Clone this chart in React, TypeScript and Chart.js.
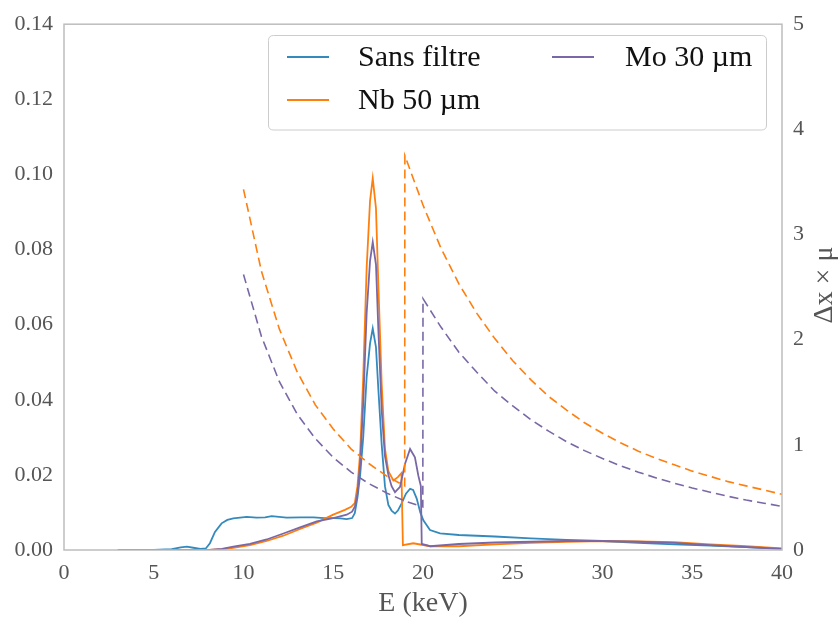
import React, { useEffect, useRef } from "react";
import { Chart, registerables } from "chart.js";

Chart.register(...registerables);

// ---------- data ----------
const seriesNames = ["Sans filtre", "Nb 50 µm", "Mo 30 µm"];

const blueE = [3, 5, 6, 6.5, 6.85, 7.2, 7.6, 7.9, 8.13, 8.41, 8.78, 9.1, 9.43, 10.18, 10.73, 11.2, 11.57, 12.4, 13.2, 13.9, 14.5, 15.0, 15.4, 15.75, 16.05, 16.2, 16.35, 16.5, 16.67, 16.86, 17.05, 17.2, 17.38, 17.51, 17.7, 17.88, 18.07, 18.25, 18.44, 18.6, 18.81, 19.05, 19.28, 19.45, 19.65, 19.85, 20.02, 20.39, 20.95, 22, 24, 26, 28, 30, 32, 34, 36, 38, 40];
const blueI = [0, 0, 0.0002, 0.0007, 0.0009, 0.0006, 0.0003, 0.0004, 0.0018, 0.0048, 0.0071, 0.008, 0.0084, 0.0088, 0.0086, 0.0087, 0.009, 0.0086, 0.0087, 0.0087, 0.0085, 0.0085, 0.0084, 0.0082, 0.0085, 0.0098, 0.014, 0.02, 0.03, 0.046, 0.055, 0.059, 0.054, 0.043, 0.028, 0.017, 0.012, 0.0105, 0.0097, 0.0105, 0.0124, 0.015, 0.0163, 0.016, 0.0137, 0.01, 0.0079, 0.0053, 0.0044, 0.004, 0.0036, 0.0031, 0.0027, 0.0024, 0.0019, 0.0015, 0.0012, 0.0008, 0.0003];

const orangeE = [3, 8.1, 8.8, 9.43, 10.36, 11.29, 12.22, 13.15, 14.08, 15.0, 15.65, 16.0, 16.2, 16.35, 16.5, 16.67, 16.86, 17.05, 17.2, 17.38, 17.51, 17.7, 17.88, 18.07, 18.35, 18.6, 18.8, 18.88, 19.46, 20.4, 22, 24, 26, 28, 30, 32, 34, 36, 38, 40];
const orangeI = [0, 0, 0.0002, 0.0006, 0.0013, 0.0024, 0.0038, 0.0056, 0.0073, 0.0094, 0.0107, 0.0115, 0.0125, 0.017, 0.026, 0.046, 0.075, 0.093, 0.099, 0.091, 0.071, 0.044, 0.027, 0.021, 0.0185, 0.0194, 0.0205, 0.0013, 0.0018, 0.001, 0.001, 0.0015, 0.0019, 0.0022, 0.0024, 0.0023, 0.0021, 0.0015, 0.001, 0.0004];

const purpleE = [3, 8.1, 8.8, 9.43, 10.36, 11.29, 12.22, 13.15, 14.08, 15.0, 15.75, 16.05, 16.2, 16.35, 16.5, 16.67, 16.86, 17.05, 17.2, 17.38, 17.51, 17.7, 17.88, 18.07, 18.25, 18.44, 18.72, 19.0, 19.28, 19.55, 19.74, 19.88, 19.93, 20.4, 22, 24, 26, 28, 30, 32, 34, 36, 38, 40];
const purpleI = [0, 0, 0.0003, 0.0009, 0.0016, 0.0028, 0.0044, 0.006, 0.0076, 0.0085, 0.0094, 0.0102, 0.0115, 0.015, 0.023, 0.039, 0.063, 0.077, 0.082, 0.076, 0.059, 0.037, 0.025, 0.02, 0.017, 0.0154, 0.0168, 0.023, 0.0269, 0.0247, 0.0198, 0.017, 0.0016, 0.001, 0.0016, 0.002, 0.0022, 0.0024, 0.0024, 0.0022, 0.0019, 0.0013, 0.0008, 0.0003];

// attenuation Δx × μ (right axis)
const nbE = [10, 11, 12, 13, 14, 15, 16, 17, 18, 18.98, 18.99, 20, 21, 22, 23, 24, 25, 26, 27, 28, 29, 30, 31, 32, 33, 34, 35, 36, 37, 38, 39, 40];
const nbMu = [3.43, 2.65, 2.1, 1.69, 1.38, 1.15, 0.96, 0.82, 0.7, 0.61, 3.75, 3.28, 2.87, 2.53, 2.25, 2.01, 1.8, 1.62, 1.46, 1.33, 1.21, 1.11, 1.02, 0.94, 0.87, 0.81, 0.75, 0.7, 0.65, 0.61, 0.57, 0.53];

const moE = [10, 11, 12, 13, 14, 15, 16, 17, 18, 19, 19.99, 20, 21, 22, 23, 24, 25, 26, 27, 28, 29, 30, 31, 32, 33, 34, 35, 36, 37, 38, 39, 40];
const moMu = [2.62, 2.03, 1.6, 1.29, 1.06, 0.88, 0.74, 0.63, 0.54, 0.465, 0.41, 2.39, 2.12, 1.88, 1.69, 1.51, 1.37, 1.24, 1.13, 1.03, 0.945, 0.87, 0.8, 0.74, 0.685, 0.635, 0.59, 0.55, 0.51, 0.475, 0.445, 0.415];

const xTicksMax = 40;
const yLeftMax = 0.14;
const yRightMax = 5;

const BLUE = "#348ABD";
const ORANGE = "#FF7F0E";
const PURPLE = "#7A68A6";
const colors = [BLUE, ORANGE, PURPLE];

const FONT = "'Liberation Serif', 'DejaVu Serif', serif";
const GRAY = "#555555";

const pts = (xs: number[], ys: number[]) => xs.map((x, i) => ({ x, y: ys[i] }));

const framePlugin = {
  id: "frame",
  afterDatasetsDraw(chart: any) {
    const { ctx, chartArea: a } = chart;
    ctx.save();
    ctx.strokeStyle = "#bdbdbd";
    ctx.lineWidth = 1.5;
    ctx.strokeRect(a.left, a.top, a.right - a.left, a.bottom - a.top);
    ctx.restore();
  },
};

const legendPlugin = {
  id: "customLegend",
  afterDraw(chart: any) {
    const ctx = chart.ctx;
    ctx.save();
    // box
    const bx = 268.5, by = 35.5, bw = 498, bh = 94.5, r = 5;
    ctx.beginPath();
    ctx.moveTo(bx + r, by);
    ctx.lineTo(bx + bw - r, by);
    ctx.quadraticCurveTo(bx + bw, by, bx + bw, by + r);
    ctx.lineTo(bx + bw, by + bh - r);
    ctx.quadraticCurveTo(bx + bw, by + bh, bx + bw - r, by + bh);
    ctx.lineTo(bx + r, by + bh);
    ctx.quadraticCurveTo(bx, by + bh, bx, by + bh - r);
    ctx.lineTo(bx, by + r);
    ctx.quadraticCurveTo(bx, by, bx + r, by);
    ctx.closePath();
    ctx.fillStyle = "rgba(255,255,255,0.85)";
    ctx.fill();
    ctx.strokeStyle = "#cccccc";
    ctx.lineWidth = 1;
    ctx.stroke();

    const entries = [
      { lx: 287, tx: 358, y: 57 },
      { lx: 287, tx: 358, y: 100 },
      { lx: 552, tx: 625, y: 57 },
    ];
    ctx.font = `30px ${FONT}`;
    ctx.textBaseline = "middle";
    ctx.textAlign = "left";
    entries.forEach((e, i) => {
      ctx.strokeStyle = colors[i];
      ctx.lineWidth = 2;
      ctx.beginPath();
      ctx.moveTo(e.lx, e.y);
      ctx.lineTo(e.lx + 42, e.y);
      ctx.stroke();
      ctx.fillStyle = "#111111";
      ctx.fillText(seriesNames[i], e.tx, e.y + 1);
    });

    // right axis title, reading bottom to top
    ctx.translate(825, 285);
    ctx.rotate(-Math.PI / 2);
    ctx.font = `28px ${FONT}`;
    ctx.fillStyle = GRAY;
    ctx.textAlign = "center";
    ctx.textBaseline = "middle";
    ctx.fillText("Δx × μ", 0, 0);
    ctx.restore();
  },
};

export default function App() {
  const ref = useRef<HTMLCanvasElement>(null);
  useEffect(() => {
    document.body.style.margin = "0";
    const solid = (label: string, xs: number[], ys: number[], c: string) => ({
      label,
      data: pts(xs, ys),
      borderColor: c,
      backgroundColor: c,
      borderWidth: 1.8,
      pointRadius: 0,
      tension: 0,
      fill: false,
      yAxisID: "y",
    });
    const dashed = (label: string, xs: number[], ys: number[], c: string) => ({
      label,
      data: pts(xs, ys),
      borderColor: c,
      backgroundColor: c,
      borderWidth: 1.6,
      borderDash: [9, 5],
      pointRadius: 0,
      tension: 0,
      fill: false,
      yAxisID: "y1",
    });
    const chart = new Chart(ref.current as HTMLCanvasElement, {
      type: "line",
      data: {
        datasets: [
          dashed("Nb Δx×μ", nbE, nbMu, ORANGE),
          dashed("Mo Δx×μ", moE, moMu, PURPLE),
          solid(seriesNames[2], purpleE, purpleI, PURPLE),
          solid(seriesNames[1], orangeE, orangeI, ORANGE),
          solid(seriesNames[0], blueE, blueI, BLUE),
        ] as any,
      },
      options: {
        responsive: false,
        animation: false,
        events: [],
        layout: { padding: { top: 21, left: 0, right: 0, bottom: 0 } },
        plugins: { legend: { display: false }, tooltip: { enabled: false } },
        scales: {
          x: {
            type: "linear",
            min: 0,
            max: xTicksMax,
            grid: { display: false, drawTicks: false },
            border: { display: false },
            ticks: { stepSize: 5, color: GRAY, font: { family: FONT, size: 22 }, padding: 10 },
            title: {
              display: true,
              text: "E (keV)",
              color: GRAY,
              font: { family: FONT, size: 28 },
              padding: { top: 0, bottom: 2 },
            },
            afterFit: (s: any) => {
              s.height = 72;
            },
          },
          y: {
            type: "linear",
            position: "left",
            min: 0,
            max: yLeftMax,
            grid: { display: false, drawTicks: false },
            border: { display: false },
            ticks: {
              stepSize: 0.02,
              color: GRAY,
              font: { family: FONT, size: 22 },
              padding: 11,
              callback: (v: any) => Number(v).toFixed(2),
            },
            afterFit: (s: any) => {
              s.width = 64;
            },
          },
          y1: {
            type: "linear",
            position: "right",
            min: 0,
            max: yRightMax,
            grid: { display: false, drawTicks: false },
            border: { display: false },
            ticks: { stepSize: 1, color: GRAY, font: { family: FONT, size: 22 }, padding: 11 },
            afterFit: (s: any) => {
              s.width = 57;
            },
          },
        },
      } as any,
      plugins: [framePlugin, legendPlugin],
    });
    return () => chart.destroy();
  }, []);
  return <canvas ref={ref} width={839} height={622} style={{ display: "block" }} />;
}
